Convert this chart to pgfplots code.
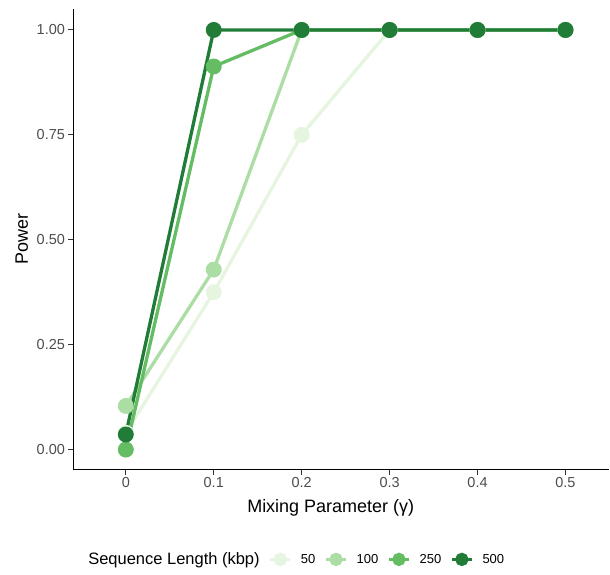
\documentclass[border=0pt]{standalone}
\usepackage{fontspec}
\setmainfont{Liberation Sans}
\usepackage{pgfplots}
\pgfplotsset{compat=1.18}
\definecolor{gA}{HTML}{E5F5E0}
\definecolor{gB}{HTML}{ACDDA5}
\definecolor{gC}{HTML}{64BC63}
\definecolor{gD}{HTML}{217C37}
\definecolor{tickgray}{HTML}{4D4D4D}
\begin{document}
\begin{tikzpicture}
\begin{axis}[
  scale only axis, width=536pt, height=461pt,
  xmin=-0.059, xmax=0.55, ymin=-0.0476, ymax=1.05,
  axis lines=left,
  axis line style={line width=1.1pt, -, black},
  xtick={0,0.1,0.2,0.3,0.4,0.5}, xticklabels={0,0.1,0.2,0.3,0.4,0.5},
  ytick={0,0.25,0.5,0.75,1}, yticklabels={0.00,0.25,0.50,0.75,1.00},
  tick align=outside, major tick length=5.5pt,
  tick style={line width=1pt, color=black!80},
  ticklabel style={font=\fontsize{14.5}{16}\selectfont, text=tickgray},
  xticklabel style={yshift=1pt},
  xlabel={Mixing Parameter (γ)}, ylabel={Power},
  label style={font=\fontsize{18}{20}\selectfont},
  xlabel style={at={(axis description cs:0.4795,0)}, anchor=base, yshift=-43pt},
  ylabel style={at={(axis description cs:-0.0858,0.5)}, anchor=base},
  legend style={at={(axis description cs:0.4086,-0.195)}, anchor=center, draw=none,
    font=\fontsize{13}{15}\selectfont,
    /tikz/every odd column/.append style={column sep=7pt},
    /tikz/every even column/.append style={column sep=7pt}},
  legend columns=-1,
  legend image code/.code={\draw[mark repeat=2,mark phase=2,mark size=5pt] plot coordinates {(0pt,0pt)(10pt,0pt)(20pt,0pt)};},
  every axis plot/.append style={line width=3.3pt, mark=*, mark size=6.3pt},
]
\addlegendimage{empty legend}
\addlegendentry{\fontsize{16.5}{18}\selectfont Sequence Length (kbp)}
\addplot[color=gA, mark options={draw=none, fill=gA}] coordinates {(0,0.04) (0.1,0.375) (0.2,0.75) (0.3,1) (0.4,1) (0.5,1)};
\addlegendentry{50}
\addplot[color=gB, mark options={draw=none, fill=gB}] coordinates {(0,0.104) (0.1,0.429) (0.2,1) (0.3,1) (0.4,1) (0.5,1)};
\addlegendentry{100}
\addplot[color=gC, mark options={draw=none, fill=gC}] coordinates {(0,0) (0.1,0.913) (0.2,1) (0.3,1) (0.4,1) (0.5,1)};
\addlegendentry{250}
\addplot[color=gD, mark options={draw=none, fill=gD}] coordinates {(0,0.036) (0.1,1) (0.2,1) (0.3,1) (0.4,1) (0.5,1)};
\addlegendentry{500}
\end{axis}
\path[use as bounding box] (-74pt,-105pt) rectangle (536pt,470pt);
\end{tikzpicture}
\end{document}
